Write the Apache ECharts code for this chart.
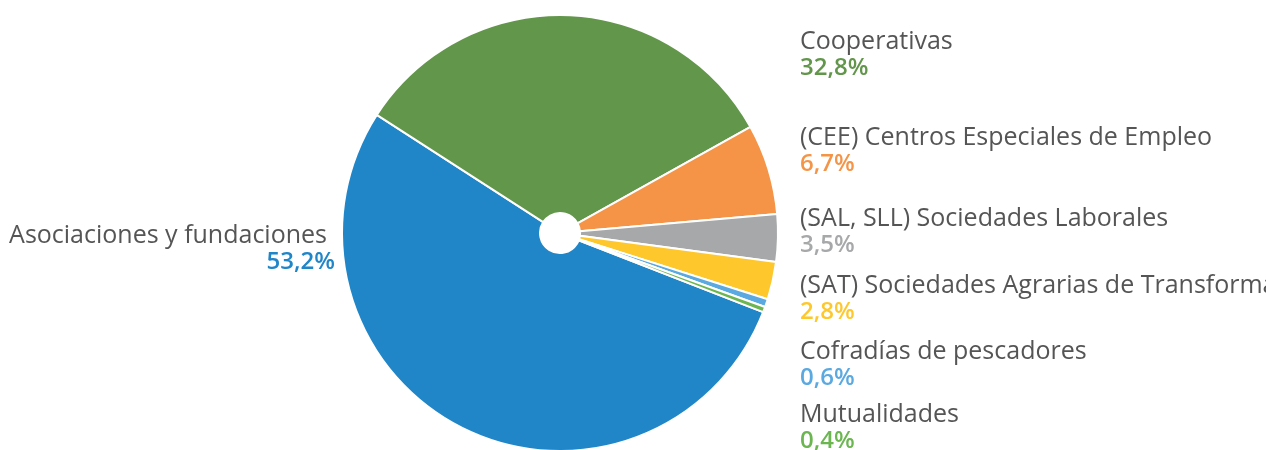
<!DOCTYPE html>
<html>
<head>
<meta charset="utf-8">
<script src="https://cdn.jsdelivr.net/npm/echarts@6/dist/echarts.min.js"></script>
<style>
html,body{margin:0;padding:0;background:#fff;}
#chart{width:1266px;height:450px;}
</style>
</head>
<body>
<div id="chart"></div>
<script>
const categories = [
  "Asociaciones y fundaciones",
  "Cooperativas",
  "(CEE) Centros Especiales de Empleo",
  "(SAL, SLL) Sociedades Laborales",
  "(SAT) Sociedades Agrarias de Transformación",
  "Cofradías de pescadores",
  "Mutualidades"
];
const values = [53.2, 32.8, 6.7, 3.5, 2.8, 0.6, 0.4];
const colors = ["#2086c8", "#62964b", "#f59447", "#a6a8a9", "#fec82d", "#5aa9e0", "#6cb652"];

const labelPos = [
  {x: 335, y: 222, align: 'right'},
  {x: 800, y: 28, align: 'left'},
  {x: 800, y: 124, align: 'left'},
  {x: 800, y: 205, align: 'left'},
  {x: 800, y: 272, align: 'left'},
  {x: 800, y: 338, align: 'left'},
  {x: 800, y: 401, align: 'left'}
];

const chart = echarts.init(document.getElementById('chart'));
const data = categories.map((c, i) => ({
  name: c,
  value: values[i],
  itemStyle: {color: colors[i]},
  label: {
    align: labelPos[i].align,
    rich: {
      n: {fontFamily: 'Open Sans', fontSize: 25, color: '#555555', lineHeight: 27,
          padding: i === 0 ? [0, 8, 0, 0] : 0},
      p: {fontFamily: 'Open Sans', fontSize: 24, fontWeight: 600, color: colors[i], lineHeight: 27}
    }
  }
}));

chart.setOption({
  animation: false,
  series: [{
    type: 'pie',
    center: [560, 233],
    radius: [20, 218],
    startAngle: -21.3,
    clockwise: true,
    avoidLabelOverlap: false,
    itemStyle: {borderColor: '#ffffff', borderWidth: 2},
    label: {
      show: true,
      position: 'outside',
      formatter: p => '{n|' + p.name + '}\n{p|' + p.value.toFixed(1).replace('.', ',') + '%}'
    },
    labelLine: {show: false},
    labelLayout: params => ({
      x: labelPos[params.dataIndex].x,
      y: labelPos[params.dataIndex].y,
      align: labelPos[params.dataIndex].align,
      verticalAlign: 'top',
      hideOverlap: false
    }),
    emphasis: {disabled: true},
    data: data
  }]
});
</script>
</body>
</html>
